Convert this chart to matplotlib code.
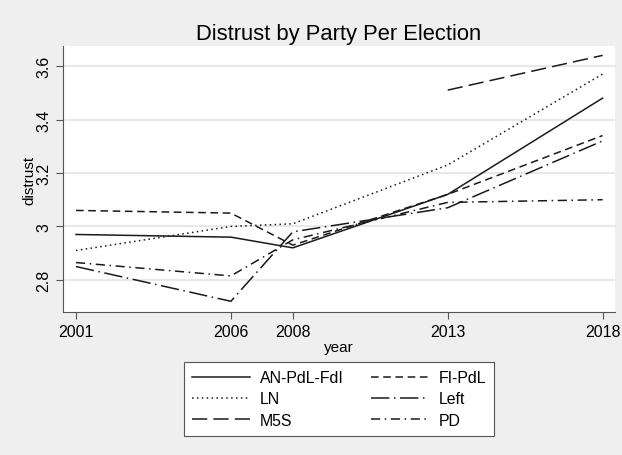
import matplotlib
matplotlib.use("Agg")
import matplotlib.pyplot as plt
import numpy as np

plt.rcParams['font.family'] = ['Liberation Sans', 'DejaVu Sans']

years = [2001, 2006, 2008, 2013, 2018]
an_pdl_fdi = [2.97, 2.96, 2.92, 3.12, 3.48]
fi_pdl = [3.06, 3.05, 2.93, 3.12, 3.34]
ln = [2.91, 3.00, 3.01, 3.23, 3.57]
left = [2.85, 2.72, 2.98, 3.07, 3.32]
m5s_years = [2013, 2018]
m5s = [3.51, 3.64]
pd_vals = [2.865, 2.815, 2.95, 3.09, 3.10]
yticks = [2.8, 3.0, 3.2, 3.4, 3.6]
ytick_labels = ["2.8", "3", "3.2", "3.4", "3.6"]

fig = plt.figure(figsize=(6.22, 4.56), dpi=100, facecolor="#efefef")
ax = fig.add_axes([63 / 622, 1 - 313 / 456, 552 / 622, 266 / 456])
ax.set_facecolor("white")

c = "#1a1a1a"
ax.plot(years, an_pdl_fdi, color=c, lw=1.1, ls="-", label="AN-PdL-FdI")
ax.plot(years, fi_pdl, color=c, lw=1.1, ls=(0, (5, 3)), label="FI-PdL")
ax.plot(years, ln, color=c, lw=1.1, ls=(0, (1, 2.2)), label="LN")
ax.plot(years, left, color=c, lw=1.1, ls=(0, (12, 3, 1, 3)), label="Left")
ax.plot(m5s_years, m5s, color=c, lw=1.1, ls=(0, (10, 4)), label="M5S")
ax.plot(years, pd_vals, color=c, lw=1.1, ls=(0, (6, 3, 1, 3)), label="PD")

ax.set_xlim(2000.58, 2018.4)
ax.set_ylim(2.68, 3.675)
ax.set_xticks(years)
ax.set_yticks(yticks)
ax.set_yticklabels(ytick_labels, rotation=90, va="center")
ax.tick_params(labelsize=11.5, length=5, color="#555555")
ax.grid(axis="y", color="#e8e8e8", lw=1.5)
ax.set_axisbelow(True)
for s in ["top", "right"]:
    ax.spines[s].set_visible(False)
for s in ["left", "bottom"]:
    ax.spines[s].set_color("#555555")

ax.set_title("Distrust by Party Per Election", fontsize=15.8, pad=5)
ax.set_xlabel("year", fontsize=11, labelpad=1)
ax.set_ylabel("distrust", fontsize=11, labelpad=0)

handles, labels = ax.get_legend_handles_labels()
order = [0, 2, 4, 1, 3, 5]
leg = fig.legend([handles[i] for i in order], [labels[i] for i in order],
                 ncol=2, loc="center", bbox_to_anchor=(339 / 622, 1 - 400 / 456),
                 fontsize=11.4, fancybox=False, edgecolor="#555555",
                 handlelength=3.7, handletextpad=0.6, columnspacing=1.7,
                 labelspacing=0.4, borderpad=0.5, framealpha=1)
leg.get_frame().set_linewidth(0.8)

fig.savefig("out.png", dpi=100, facecolor=fig.get_facecolor())
